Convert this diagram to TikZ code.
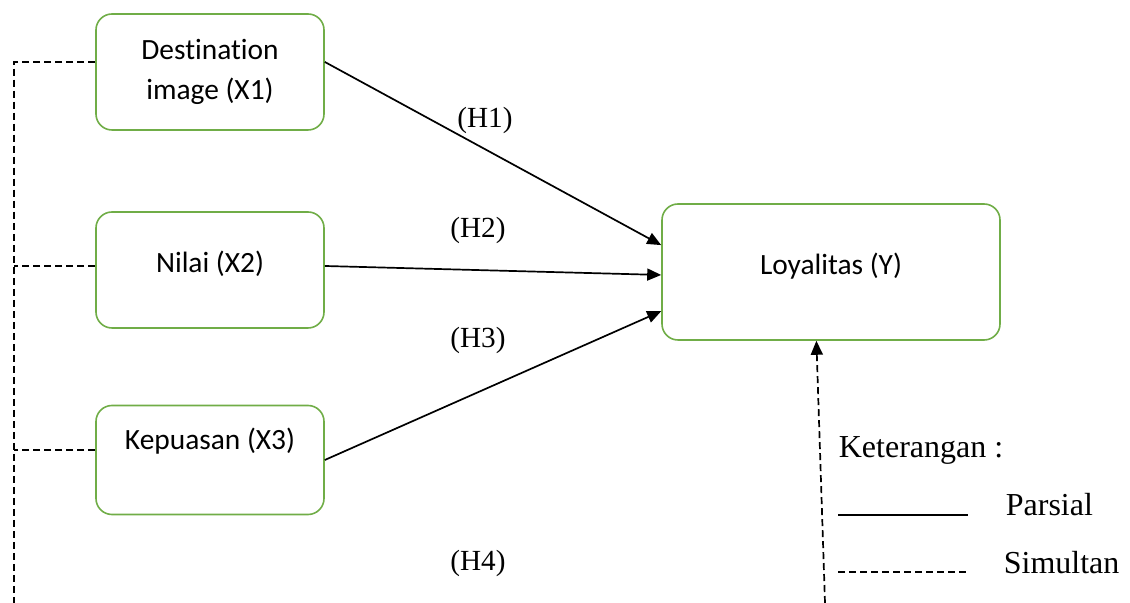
\documentclass[tikz,border=0pt]{standalone}
\usepackage{fontspec}
\setmainfont{Liberation Serif}
\newfontfamily\carlito[Ligatures=NoCommon]{Carlito}
\usetikzlibrary{arrows.meta,positioning}
\definecolor{boxgreen}{RGB}{112,173,71}
\tikzset{
  var/.style={draw=boxgreen, line width=0.8pt, rounded corners=8pt,
    inner sep=0pt, minimum width=114pt, align=center,
    font=\carlito\fontsize{14.7}{20}\selectfont},
  hyp/.style={font=\fontsize{14.6}{17}\selectfont},
  legend/.style={font=\fontsize{16}{19}\selectfont, anchor=west, inner sep=0pt},
  simul/.style={dash pattern=on 3.5pt off 2pt}
}

\begin{document}
\begin{tikzpicture}[x=0.5pt,y=-0.5pt,node distance=99pt,on grid,
    line width=0.85pt,>={Triangle[length=7pt,width=6pt]}]
   \useasboundingbox (0,0) rectangle (1130,603);
   % variables
   \node[var, minimum height=58pt] (x1) at (210,72) {Destination\\image (X1)};
   \node[var, text height=30.2pt, text depth=27.8pt] (x2) [below=of x1] {Nilai (X2)};
   \node[var, text height=22.2pt, text depth=32.3pt] (x3) [below=95pt of x2] {Kepuasan (X3)};
   \node[var, minimum width=169pt, text height=35.2pt, text depth=32.8pt] (y) at (831,272) {Loyalitas (Y)};
   % hypotheses
   \node[hyp] (h1) at (485,120) {(H1)};
   \node[hyp] (h2) at (478,230) {(H2)};
   \node[hyp] (h3) at (478,340) {(H3)};
   \node[hyp] (h4) at (478,563) {(H4)};
    \path[->]
    (x1.5)   edge (y.171)
    (x2.2)   edge (y.181)
    (x3.east) edge (y.193);
   % simultaneous
   \coordinate (bl) at (14,603);
   \coordinate (br) at (825,603);
   \draw[simul] (x1.175) -| (bl);
   \draw[simul] (x2.178) -- (bl |- x2.178);
   \draw[simul] (x3.175) -- (bl |- x3.175);
   \draw[simul,->] (br) -- (y.258);
   % legend
   \node[legend] (ket) at (838,450) {Keterangan :};
   \node[legend] (par) at (1005,505) {Parsial};
   \node[legend] (sim) at (1003,563) {Simultan};
   \coordinate (p1) at (838,515);
   \coordinate (s1) at (838,572);
   \draw (p1) -- ++(130,0);
   \draw[simul] (s1) -- ++(130,0);
\end{tikzpicture}
\end{document}
